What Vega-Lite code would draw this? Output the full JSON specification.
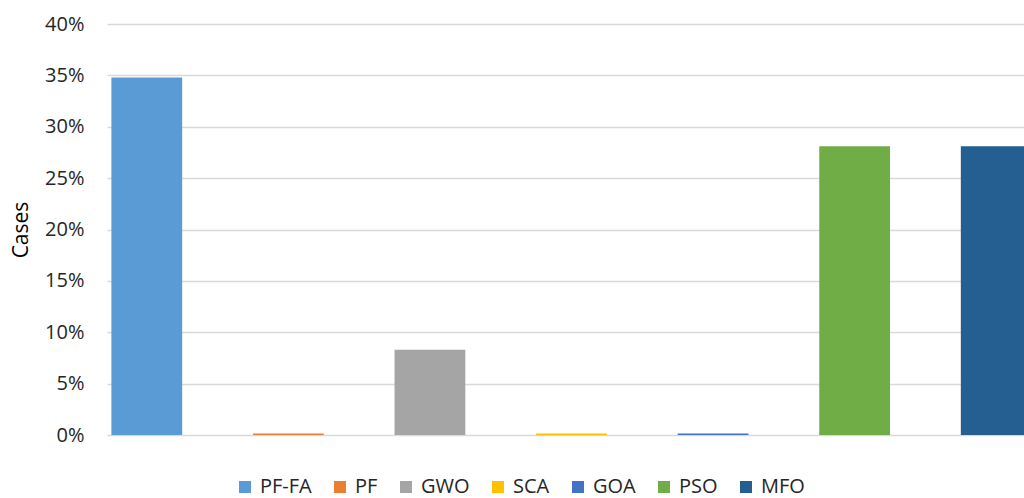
{
  "$schema": "https://vega.github.io/schema/vega-lite/v6.json",
  "autosize": "none",
  "width": 917,
  "height": 411,
  "padding": {"left": 107, "top": 24, "right": 0, "bottom": 63},
  "background": "white",
  "config": {"view": {"stroke": null}, "font": "Open Sans"},
  "data": {"values": [
    {"algo": "PF-FA", "cases": 0.348},
    {"algo": "PF", "cases": 0.0015},
    {"algo": "GWO", "cases": 0.083},
    {"algo": "SCA", "cases": 0.0015},
    {"algo": "GOA", "cases": 0.0015},
    {"algo": "PSO", "cases": 0.281},
    {"algo": "MFO", "cases": 0.281}
  ]},
  "mark": {"type": "bar", "clip": true},
  "encoding": {
    "x": {
      "field": "algo", "type": "nominal", "sort": null,
      "scale": {"range": [0, 929], "paddingInner": 0.5, "paddingOuter": 0.031},
      "axis": null
    },
    "y": {
      "field": "cases", "type": "quantitative",
      "scale": {"domain": [0, 0.4]},
      "axis": {
        "values": [0, 0.05, 0.1, 0.15, 0.2, 0.25, 0.3, 0.35, 0.4],
        "format": ".0%",
        "domain": false, "ticks": false,
        "labelPadding": 23, "labelFontSize": 20, "labelColor": "#262626",
        "gridColor": "#d9d9d9", "gridWidth": 1.3,
        "title": "Cases", "titleFontSize": 21, "titleFontWeight": "normal",
        "titleColor": "#000000", "titlePadding": 13
      }
    },
    "color": {
      "field": "algo", "type": "nominal", "sort": null,
      "scale": {
        "domain": ["PF-FA", "PF", "GWO", "SCA", "GOA", "PSO", "MFO"],
        "range": ["#5B9BD5", "#ED7D31", "#A5A5A5", "#FFC000", "#4472C4", "#70AD47", "#255E91"]
      },
      "legend": {
        "orient": "none", "direction": "horizontal", "title": null,
        "legendX": 128, "legendY": 453,
        "symbolType": "square", "symbolSize": 144, "symbolStrokeWidth": 0,
        "labelFontSize": 20, "labelColor": "#262626", "columnPadding": 18, "labelOffset": 5
      }
    }
  }
}
